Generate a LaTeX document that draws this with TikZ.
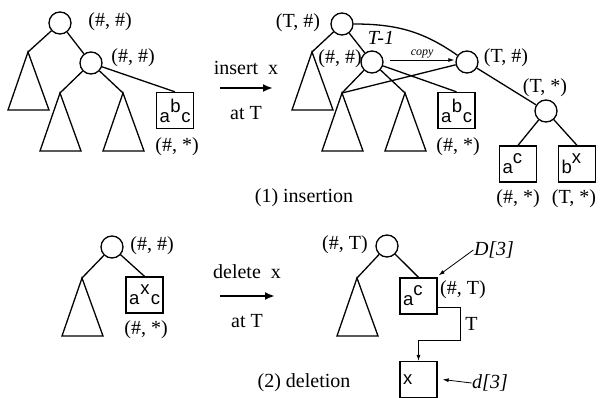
\documentclass[tikz,border=0pt]{standalone}
\usepackage{fontspec}
\setmainfont{Liberation Serif}
\setsansfont{Liberation Sans}
\usetikzlibrary{arrows.meta,positioning}

% a subtree: named apex, triangle hanging below it
\newcommand{\subtree}[2]{\coordinate (#1) at (#2); \draw (#1) -- ++(-20,58) -- ++(41,0) -- cycle;}

\begin{document}
\begin{tikzpicture}[x=1pt, y=-1pt, font=\fontsize{20}{22}\selectfont, every node/.style={inner sep=1pt}, line width=1.3pt]
        \tikzset{
            vtx/.style={draw, circle, minimum size=22pt, inner sep=0pt},
            leaf/.style={draw, minimum width=37pt, minimum height=36pt, inner sep=2pt, text width=31pt, align=left, font=\sffamily\fontsize{18.5}{19}\selectfont},
            lbl/.style={inner sep=0pt},
            op/.style={-{Latex[length=10pt,width=8pt]}, line width=2.6pt},
            ptr/.style={-{Latex[length=6pt,width=4pt]}, line width=0.8pt}
        }
        \useasboundingbox (0,0) rectangle (605,398);

        % (1) insertion: before
        \node[vtx] (l1) at (60,23) {};
        \node[vtx] (l2) at (91,63) {};
        \subtree{l1a}{28,52}
        \subtree{l2a}{60,93}
        \subtree{l2b}{123,93}
        \node[leaf] (lb) at (175,110.5) {a\hfill\raisebox{10pt}{b}\hfill c};
        \node[lbl] (l1t) at (110,22) {(\#, \#)};
        \node[lbl] (l2t) at (133,58) {(\#, \#)};
        \node[lbl] (lbt) at (177,147) {(\#, *)};
        \draw (l1) -- (l1a);
        \draw (l1) -- (l2);
        \draw (l2) -- (l2a);
        \draw (l2) -- (l2b);
        \draw (l2) -- (lb.north);

        \coordinate (ins0) at (220,88);
        \coordinate (ins1) at (273,88);
        \draw[op] (ins0) -- (ins1);
        \node[lbl] (inst) at (246,68) {insert\ \ x};
        \node[lbl] (insb) at (246,113) {at T};

        % (1) insertion: after
        \node[vtx] (r1) at (342,24) {};
        \node[vtx] (r2) at (372,62) {};
        \node[vtx] (r3) at (467,62) {};
        \node[vtx] (r4) at (546,111) {};
        \subtree{r1a}{312,52}
        \subtree{r2a}{342,93}
        \subtree{r2b}{405,93}
        \node[leaf] (rb) at (456.5,110.5) {a\hfill\raisebox{10pt}{b}\hfill c};
        \node[leaf] (rl) at (518,164) {a\raisebox{10pt}{c}};
        \node[leaf] (rr) at (577,164) {b\raisebox{10pt}{x}};
        \node[lbl] (r1t) at (298,23) {(T, \#)};
        \node[lbl] (r2t) at (340,59) {(\#, \#)};
        \node[lbl] (r3t) at (506,58) {(T, \#)};
        \node[lbl] (r4t) at (545,88) {(T, *)};
        \node[lbl] (rbt) at (458,147) {(\#, *)};
        \node[lbl] (rlt) at (518,199) {(\#, *)};
        \node[lbl] (rrt) at (574,199) {(T, *)};
        \node[lbl] (age) at (381,38) {\itshape T-1};
        \draw (r1) -- (r1a);
        \draw (r1) -- (r2);
        \draw (r2) -- (r2a);
        \draw (r2) -- (r2b);
        \draw (r2) -- (rb.north);
        \draw (r1.east) to[out=0, in=145] (r3);
        \draw (r3) -- (r2a);
        \draw (r3) -- (r4);
        \draw (r4) -- (rl.north);
        \draw (r4) -- (rr.north);
        \draw[ptr] (r2) ++(18,-2) coordinate (cp0) (cp0) -- node[above=1pt, font=\itshape\fontsize{12}{13}\selectfont] (cpt) {copy} ([xshift=-1pt]r3.west |- cp0);
        \node[lbl] (cap1) at (304,198) {(1) insertion};

        % (2) deletion: before
        \node[vtx] (b1) at (112,247) {};
        \subtree{b1a}{82,278}
        \node[leaf] (bb) at (144.5,295) {a\hfill\raisebox{10pt}{x}\hfill c};
        \node[lbl] (b1t) at (152,246) {(\#, \#)};
        \node[lbl] (bbt) at (146,330) {(\#, *)};
        \draw (b1) -- (b1a);
        \draw (b1) -- (bb.north);

        \coordinate (del0) at (220,296);
        \coordinate (del1) at (275,296);
        \draw[op] (del0) -- (del1);
        \node[lbl] (delt) at (247,272) {delete\ \ x};
        \node[lbl] (delb) at (247,321) {at T};

        % (2) deletion: after
        \node[vtx] (c1) at (387,246) {};
        \subtree{c1a}{357,278}
        \node[leaf] (cb) at (418.5,296) {a\raisebox{10pt}{c}};
        \node[leaf] (xb) at (418.5,379.5) {x};
        \node[lbl] (c1t) at (345,245) {(\#, T)};
        \node[lbl] (cbt) at (463,290) {(\#, T)};
        \node[lbl] (dbig) at (494,250) {\itshape D[3]};
        \node[lbl] (dsmall) at (490,383) {\itshape d[3]};
        \draw (c1) -- (c1a);
        \draw (c1) -- (cb.north);
        \coordinate (bend) at (460,340);
        \draw[ptr] ([yshift=-11pt]cb.east) -| node[pos=0.75, right=5pt, lbl] (tt) {T} (bend) -| (xb.north);
        \draw[ptr] (dbig.west) -- ([shift={(1pt,2pt)}]cb.north east);
        \draw[ptr] (dsmall.west) -- ([xshift=5pt]xb.east);
        \node[lbl] (cap2) at (304,383) {(2) deletion};
    \end{tikzpicture}
\end{document}
